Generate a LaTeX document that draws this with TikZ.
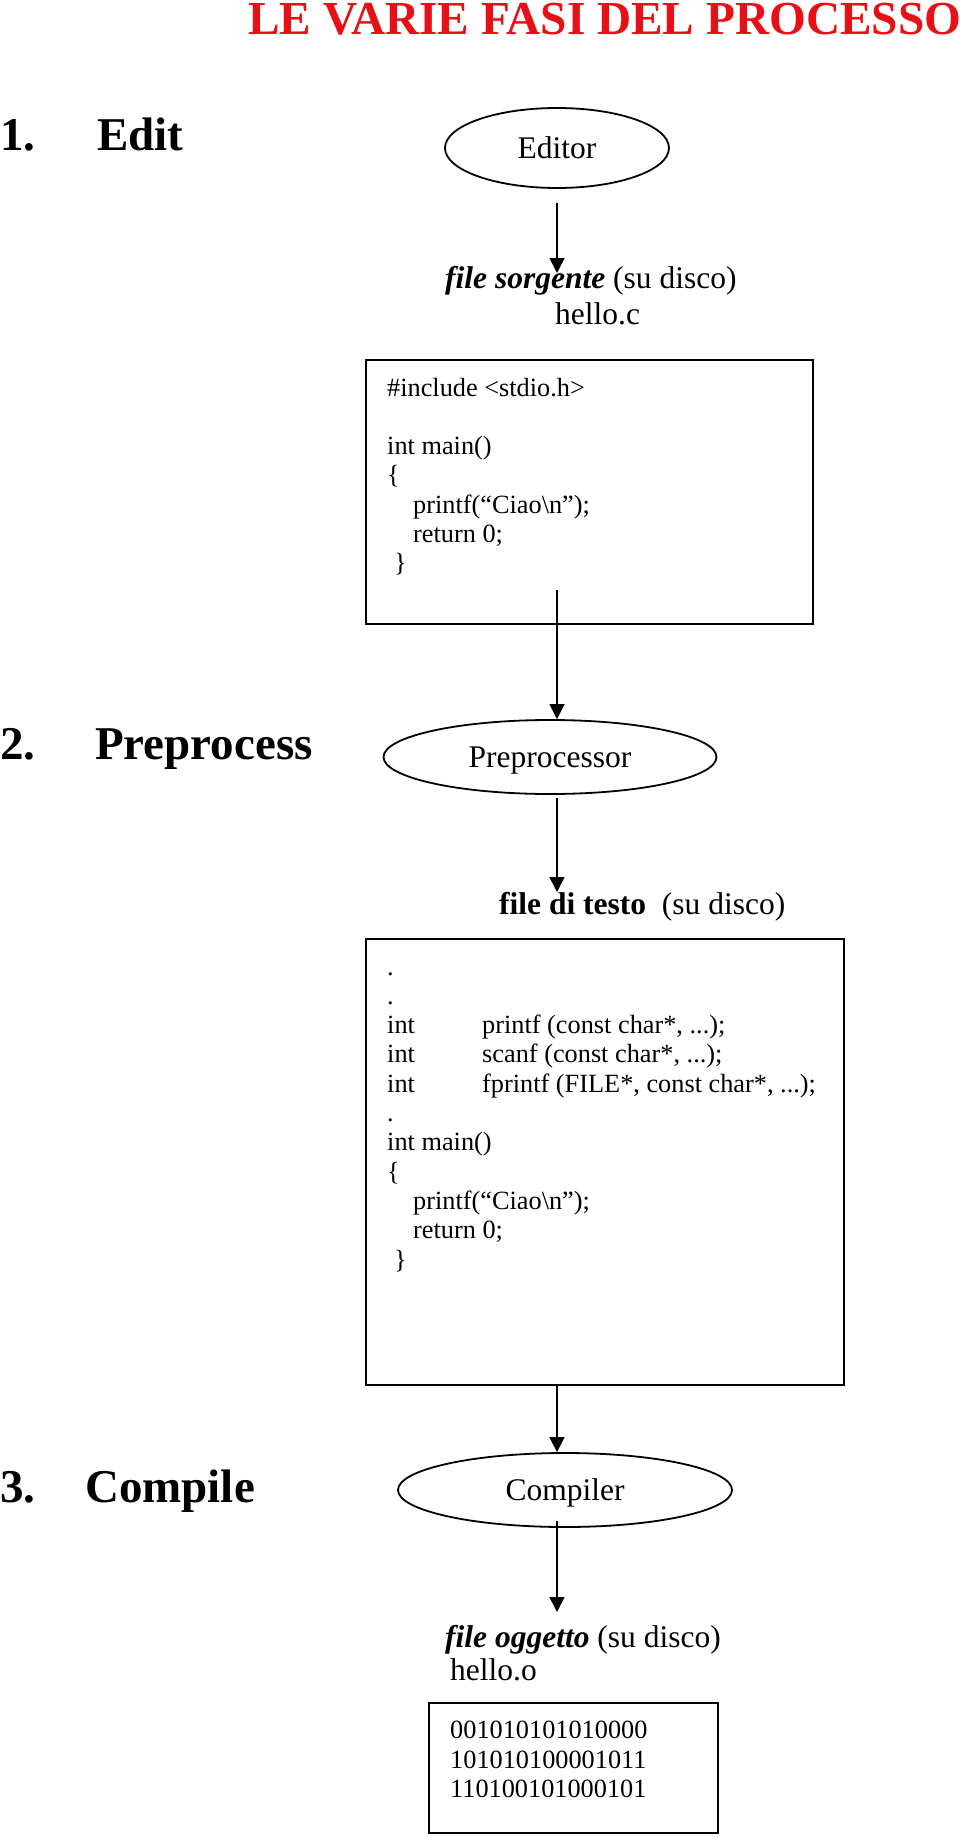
\documentclass[tikz,border=0pt]{standalone}
\usepackage{fontspec}
\setmainfont{Liberation Serif}
\usepackage{tikz}
\usetikzlibrary{arrows.meta,shapes}
\definecolor{titlered}{RGB}{230,16,22}
\tikzstyle{procnode}=[ellipse,draw,line width=1.8pt,inner sep=0pt,text depth=0pt,font=\fontsize{31.5}{36}\selectfont]
\tikzstyle{codebox}=[draw,line width=1.4pt,inner sep=0pt]
\tikzstyle{codeline}=[anchor=base west,inner sep=0pt,font=\fontsize{26.3}{29}\selectfont]
\tikzstyle{filelabel}=[anchor=base west,inner sep=0pt,font=\fontsize{31.5}{36}\selectfont]
\tikzstyle{steplabel}=[anchor=base west,inner sep=0pt,font=\fontsize{47}{52}\selectfont\bfseries]
\tikzstyle{flow}=[draw,line width=1.5pt,-{Triangle[length=15pt,width=15pt]}]

\begin{document}
\begin{tikzpicture}[x=1pt,y=-1pt]
    \useasboundingbox (0,0) rectangle (960,1838);
    % Title and the three phases
    \node[anchor=base west,inner sep=0pt,text=titlered,font=\fontsize{47.3}{50}\selectfont\bfseries] (title) at (248,35) {LE VARIE FASI DEL PROCESSO};

    \foreach \y/\num/\xx/\phase [count=\i] in {151/1./97/Edit, 759/2./95/Preprocess, 1502/3./85/Compile}
    {
        \node[steplabel] (num\i) at (0,\y) {\num};
        \node[steplabel] (phase\i) at (\xx,\y) {\phase};
    }

    % The tools
    \node[procnode,minimum width=224,minimum height=80] (editor) at (557,148) {Editor};
    \node[procnode,minimum width=333,minimum height=74] (preproc) at (550,757) {Preprocessor};
    \node[procnode,minimum width=334,minimum height=74] (compiler) at (565,1490) {Compiler};

    % File labels
    \node[filelabel] (srcfile) at (445,288) {\textbf{\textit{file sorgente}} (su disco)};
    \node[filelabel] (srcname) at (555,324) {hello.c};
    \node[filelabel] (txtfile) at (499,914) {\textbf{file di testo}\ \ (su disco)};
    \node[filelabel] (objfile) at (445,1647) {\textbf{\textit{file oggetto}} (su disco)};
    \node[filelabel] (objname) at (450,1680) {hello.o};

    % Source file
    \node[codebox,minimum width=447,minimum height=264] (box1) at (589.5,492) {};
    \foreach \y/\x/\txt [count=\i] in {396/387/{\#include <stdio.h>}, 454.6/387/{int main()}, 483.9/387/{\{}, 513.2/413/{printf(“Ciao\textbackslash n”);}, 542.5/413/{return 0;}, 571.8/394/{\}}}
        \node[codeline] (src\i) at (\x,\y) {\txt};

    % Preprocessed text file
    \node[codebox,minimum width=478,minimum height=446] (box2) at (605,1162) {};
    \foreach \y/\x/\txt [count=\i] in {975/387/., 1004.3/387/., 1121.5/387/., 1150.8/387/{int main()}, 1180.1/387/{\{}, 1209.4/413/{printf(“Ciao\textbackslash n”);}, 1238.7/413/{return 0;}, 1268/394/{\}}}
        \node[codeline] (txt\i) at (\x,\y) {\txt};
    \foreach \y/\decl [count=\i] in {1033.6/{printf (const char*, ...);}, 1062.9/{scanf (const char*, ...);}, 1092.2/{fprintf (FILE*, const char*, ...);}}
    {
        \node[codeline] (int\i) at (387,\y) {int};
        \node[codeline] (decl\i) at (482,\y) {\decl};
    }

    % Object file
    \node[codebox,minimum width=289,minimum height=130] (box3) at (573.5,1768) {};
    \foreach \y/\bits [count=\i] in {1738/001010101010000, 1768/101010100001011, 1797/110100101000101}
        \node[codeline] (obj\i) at (450,\y) {\bits};

    % Connect the phases
    \coordinate (tip1) at (557,273);
    \coordinate (from2) at (557,590);
    \coordinate (tip3) at (557,892);
    \coordinate (tip5) at (557,1612);
    \path[flow,shorten <=14pt] (editor.south) -- (tip1);
    \path[flow] (from2) -- (from2 |- preproc.north);
    \path[flow,shorten <=3.5pt] (tip3 |- preproc.south) -- (tip3);
    \path[flow] (tip3 |- box2.south) -- (tip3 |- compiler.north);
    \path[flow,shorten <=-7pt] (tip5 |- compiler.south) -- (tip5);
\end{tikzpicture}
\end{document}
